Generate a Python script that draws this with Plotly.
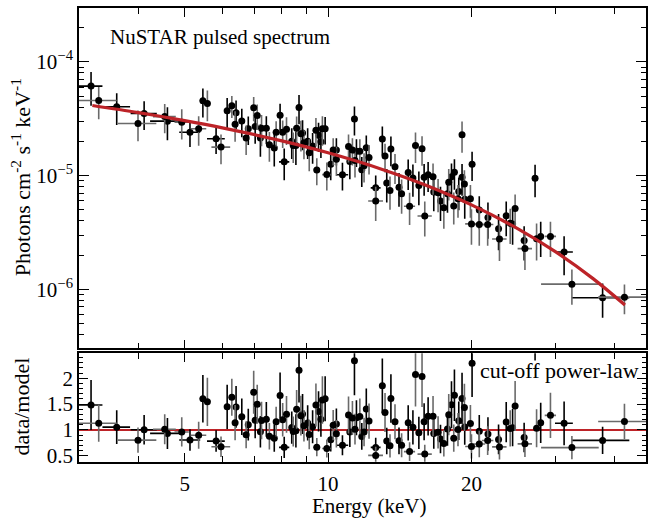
import numpy as np
import plotly.graph_objects as go

# ---------------- data ----------------
# energy bin centres (keV) and half widths
energy = [3.18, 3.30, 3.60, 3.99, 4.11, 4.54, 4.60, 4.93, 5.13, 5.35,
          5.46, 5.58, 5.82, 5.96, 6.14, 6.28, 6.41, 6.38, 6.59, 6.73,
          6.80, 6.98, 7.03, 7.10, 7.21, 7.25, 7.42, 7.53, 7.71, 7.78,
          7.93, 8.03, 8.09, 8.18, 8.39, 8.45, 8.56, 8.59, 8.69, 8.77,
          8.84, 8.90, 9.06, 9.13, 9.28, 9.43, 9.55, 9.47, 9.66, 9.73,
          9.86, 9.94, 10.13, 10.25, 10.41, 10.41, 10.72, 11.04, 11.11, 11.25,
          11.36, 11.39, 11.47, 11.66, 11.77, 11.90, 12.03, 12.19, 12.59, 12.59,
          13.0, 13.17, 13.28, 13.49, 13.55, 13.82, 14.09, 14.27, 14.73, 14.83,
          15.07, 15.26, 15.51, 15.75, 15.91, 15.96, 16.22, 16.61, 16.67, 17.02,
          17.22, 17.5, 17.81, 17.92, 18.16, 18.36, 18.42, 18.74, 18.81, 19.11,
          19.11, 19.33, 19.36, 19.9, 20.06, 20.0, 20.77, 20.77, 21.66, 21.63,
          22.8, 22.9, 23.66, 24.12, 24.4, 24.7, 25.8, 25.9, 27.2, 27.4,
          27.95, 29.3, 31.3, 32.5, 37.7, 41.9]
energy_err = [0.18, 0.30, 0.24, 0.37, 0.26, 0.25, 0.37, 0.17, 0.26, 0.20,
              0.08, 0.08, 0.25, 0.27, 0.06, 0.06, 0.06, 0.06, 0.06, 0.06,
              0.06, 0.06, 0.06, 0.06, 0.06, 0.06, 0.06, 0.06, 0.06, 0.06,
              0.06, 0.06, 0.20, 0.06, 0.06, 0.06, 0.06, 0.06, 0.06, 0.06,
              0.06, 0.06, 0.06, 0.06, 0.06, 0.06, 0.06, 0.15, 0.06, 0.06,
              0.06, 0.22, 0.12, 0.12, 0.12, 0.12, 0.30, 0.12, 0.12, 0.12,
              0.12, 0.12, 0.12, 0.12, 0.12, 0.12, 0.12, 0.12, 0.30, 0.45,
              0.12, 0.12, 0.12, 0.12, 0.12, 0.12, 0.12, 0.12, 0.15, 0.40,
              0.15, 0.15, 0.15, 0.15, 0.15, 0.55, 0.15, 0.15, 0.15, 0.15,
              0.15, 0.15, 0.15, 0.15, 0.15, 0.15, 0.15, 0.15, 0.15, 0.2,
              0.2, 0.2, 0.2, 0.2, 0.2, 0.6, 0.2, 0.6, 0.25, 0.6,
              0.25, 0.8, 0.25, 0.25, 0.25, 0.25, 0.3, 0.9, 0.3, 0.3,
              0.3, 0.8, 1.35, 4.5, 5.2, 5.0]
# flux in units of 1e-5 photons cm^-2 s^-1 keV^-1 and its error
flux = [6.12, 4.57, 4.03, 2.87, 3.51, 3.30, 3.01, 2.95, 2.40, 2.58,
        4.54, 4.30, 2.11, 1.78, 3.72, 4.11, 3.57, 2.83, 3.02, 2.14,
        2.58, 3.95, 2.70, 3.37, 2.14, 2.61, 2.61, 1.87, 1.75, 2.40,
        3.39, 2.40, 1.32, 2.56, 2.00, 1.84, 1.84, 2.61, 3.97, 2.33,
        2.37, 1.94, 2.00, 1.59, 1.82, 2.50, 2.26, 1.12, 1.98, 2.58,
        2.58, 1.02, 1.258, 1.676, 1.676, 1.39, 1.018, 1.80, 1.327, 1.676,
        3.15, 1.36, 1.64, 1.64, 1.125, 1.219, 1.754, 1.44, 0.78, 0.598,
        2.10, 1.486, 0.861, 0.74, 1.71, 1.194, 0.791, 0.692, 1.066, 0.538,
        0.951, 1.84, 0.818, 1.72, 0.965, 0.441, 1.018, 0.978, 0.716, 0.705,
        0.598, 0.52, 0.692, 0.873, 0.978, 0.541, 1.072, 0.626, 0.726, 2.29,
        0.965, 0.844, 0.618, 0.626, 1.258, 0.376, 0.497, 0.371, 0.4285, 0.371,
        0.34, 0.277, 0.443, 0.38, 0.376, 0.513, 0.269, 0.228, 0.946, 0.279,
        0.292, 0.292, 0.213, 0.111, 0.0843, 0.0853]
flux_err = [2.0, 1.45, 1.25, 0.87, 1.0, 0.95, 0.97, 0.87, 0.62, 0.75,
            1.3, 1.3, 0.56, 0.52, 1.1, 0.9, 1.0, 0.85, 0.85, 0.62,
            0.72, 0.95, 0.8, 0.85, 0.68, 0.8, 0.72, 0.55, 0.55, 0.6,
            0.9, 0.65, 0.41, 0.7, 0.6, 0.55, 0.6, 0.7, 1.15, 0.7,
            0.7, 0.55, 0.6, 0.5, 0.55, 0.7, 0.65, 0.30, 0.55, 0.75,
            0.7, 0.28, 0.35, 0.45, 0.45, 0.40, 0.28, 0.50, 0.40, 0.45,
            0.90, 0.40, 0.45, 0.45, 0.33, 0.35, 0.50, 0.42, 0.22, 0.20,
            0.60, 0.42, 0.28, 0.24, 0.50, 0.35, 0.26, 0.23, 0.32, 0.17,
            0.30, 0.55, 0.27, 0.50, 0.30, 0.15, 0.30, 0.30, 0.23, 0.23,
            0.20, 0.18, 0.22, 0.27, 0.30, 0.17, 0.32, 0.20, 0.23, 0.70,
            0.30, 0.27, 0.20, 0.20, 0.36, 0.13, 0.16, 0.13, 0.15, 0.13,
            0.12, 0.10, 0.15, 0.13, 0.13, 0.17, 0.09, 0.08, 0.30, 0.10,
            0.10, 0.10, 0.08, 0.038, 0.028, 0.025]
# cut-off power-law model curve, read at several energies (1e-5 units)
model_energy = [3.2, 4, 5, 6, 8, 10, 13, 16, 20, 25, 30, 36, 42]
model_flux = [4.13, 3.573, 3.042, 2.628, 2.017, 1.585, 1.133, 0.827, 0.553,
              0.342, 0.2145, 0.1242, 0.0727]

x_ticks = [5, 10, 20]
x_minor = [3, 4, 6, 7, 8, 9, 30, 40]
y_ticks = [1e-6, 1e-5, 1e-4]
y_ticktext = ["10<sup>\u22126</sup>", "10<sup>\u22125</sup>", "10<sup>\u22124</sup>"]
r_ticks = [0.5, 1, 1.5, 2]
r_ticktext = ["0.5", "1", "1.5", "2"]

# ---------------- derived ----------------
E = np.array(energy)
Ee = np.array(energy_err)
F = np.array(flux) * 1e-5
Fe = np.array(flux_err) * 1e-5
mE = np.array(model_energy)
mF = np.array(model_flux) * 1e-5
model_at = 10 ** np.interp(np.log10(E), np.log10(mE), np.log10(mF))
ratio = F / model_at
ratio_err = Fe / model_at

FONT = "Liberation Serif"
RED = "#bd2328"

fig = go.Figure()

groups = [(np.arange(len(E)) % 2 == 0, "#000000"), (np.arange(len(E)) % 2 == 1, "#6a6a6a")]
for mask, col in groups:
    fig.add_trace(go.Scatter(
        x=E[mask], y=F[mask], mode="markers",
        marker=dict(color="black", size=7),
        error_x=dict(type="data", array=Ee[mask], color=col, thickness=1.6, width=0),
        error_y=dict(type="data", array=Fe[mask], color=col, thickness=1.6, width=0),
        xaxis="x", yaxis="y", showlegend=False))
fig.add_trace(go.Scatter(x=mE, y=mF, mode="lines", line=dict(color=RED, width=3.2, shape="spline"),
                         xaxis="x", yaxis="y", showlegend=False))

for mask, col in groups:
    fig.add_trace(go.Scatter(
        x=E[mask], y=ratio[mask], mode="markers",
        marker=dict(color="black", size=7),
        error_x=dict(type="data", array=Ee[mask], color=col, thickness=1.6, width=0),
        error_y=dict(type="data", array=ratio_err[mask], color=col, thickness=1.6, width=0),
        xaxis="x2", yaxis="y2", showlegend=False))

fig.add_shape(type="line", xref="x2 domain", yref="y2", x0=0, x1=1, y0=1, y1=1,
              line=dict(color=RED, width=2), layer="below")

xr = [np.log10(3.0), np.log10(46.5)]
axis_common = dict(showline=True, linecolor="black", linewidth=1.6, mirror="allticks",
                   ticks="inside", tickcolor="black", tickwidth=1.3, showgrid=False,
                   zeroline=False, tickfont=dict(family=FONT, size=21, color="black"))

fig.update_layout(
    width=648, height=523,
    margin=dict(l=79, r=0, t=0, b=0),
    paper_bgcolor="white", plot_bgcolor="white",
    font=dict(family=FONT, size=21, color="black"),
    xaxis=dict(type="log", range=xr, domain=[0, 1], anchor="y", tickvals=x_ticks,
               showticklabels=False, ticklen=9,
               minor=dict(tickvals=x_minor, ticks="inside", ticklen=6, tickcolor="black", tickwidth=1.1),
               **axis_common),
    yaxis=dict(type="log", range=[-6.52, -3.526], domain=[0.326, 0.9847], anchor="x",
               tickvals=y_ticks, ticktext=y_ticktext, ticklen=10,
               minor=dict(tickvals=[m * 10.0 ** p for p in (-7, -6, -5, -4) for m in range(2, 10)],
                          ticks="inside", ticklen=5, tickcolor="black", tickwidth=1.0),
               **axis_common),
    xaxis2=dict(type="log", range=xr, domain=[0, 1], anchor="y2", tickvals=x_ticks,
                ticktext=[str(v) for v in x_ticks], ticklen=9, ticklabelstandoff=2,
                minor=dict(tickvals=x_minor, ticks="inside", ticklen=6, tickcolor="black", tickwidth=1.1),
                **axis_common),
    yaxis2=dict(range=[0.386, 2.48], domain=[0.1071, 0.3165], anchor="x2",
                tickvals=r_ticks, ticktext=r_ticktext, ticklen=9,
                minor=dict(dtick=0.1, ticks="inside", ticklen=4, tickcolor="black", tickwidth=1.0),
                **axis_common),
)

fig.add_annotation(text="NuSTAR pulsed spectrum", xref="paper", yref="paper",
                   x=(108 - 79) / 569, y=1 - 37 / 523, xanchor="left", yanchor="middle",
                   showarrow=False, font=dict(family=FONT, size=21, color="black"))
fig.add_annotation(text="cut-off power-law", xref="paper", yref="paper",
                   x=(643 - 79) / 569, y=1 - 375 / 523, xanchor="right", yanchor="middle",
                   showarrow=False, font=dict(family=FONT, size=22, color="black"))
fig.add_annotation(text="Photons cm<sup>-2</sup> s<sup>-1</sup> keV<sup>-1</sup>", xref="paper", yref="paper",
                   x=(21 - 79) / 569, y=1 - 179 / 523, textangle=-90,
                   xanchor="center", yanchor="middle",
                   showarrow=False, font=dict(family=FONT, size=22, color="black"))
fig.add_annotation(text="data/model", xref="paper", yref="paper",
                   x=(21 - 79) / 569, y=1 - 411 / 523, textangle=-90,
                   xanchor="center", yanchor="middle",
                   showarrow=False, font=dict(family=FONT, size=22, color="black"))
fig.add_annotation(text="Energy (keV)", xref="paper", yref="paper",
                   x=(371 - 79) / 569, y=(523 - 512) / 523,
                   xanchor="center", yanchor="middle",
                   showarrow=False, font=dict(family=FONT, size=21, color="black"))

fig.write_html("out.html")
